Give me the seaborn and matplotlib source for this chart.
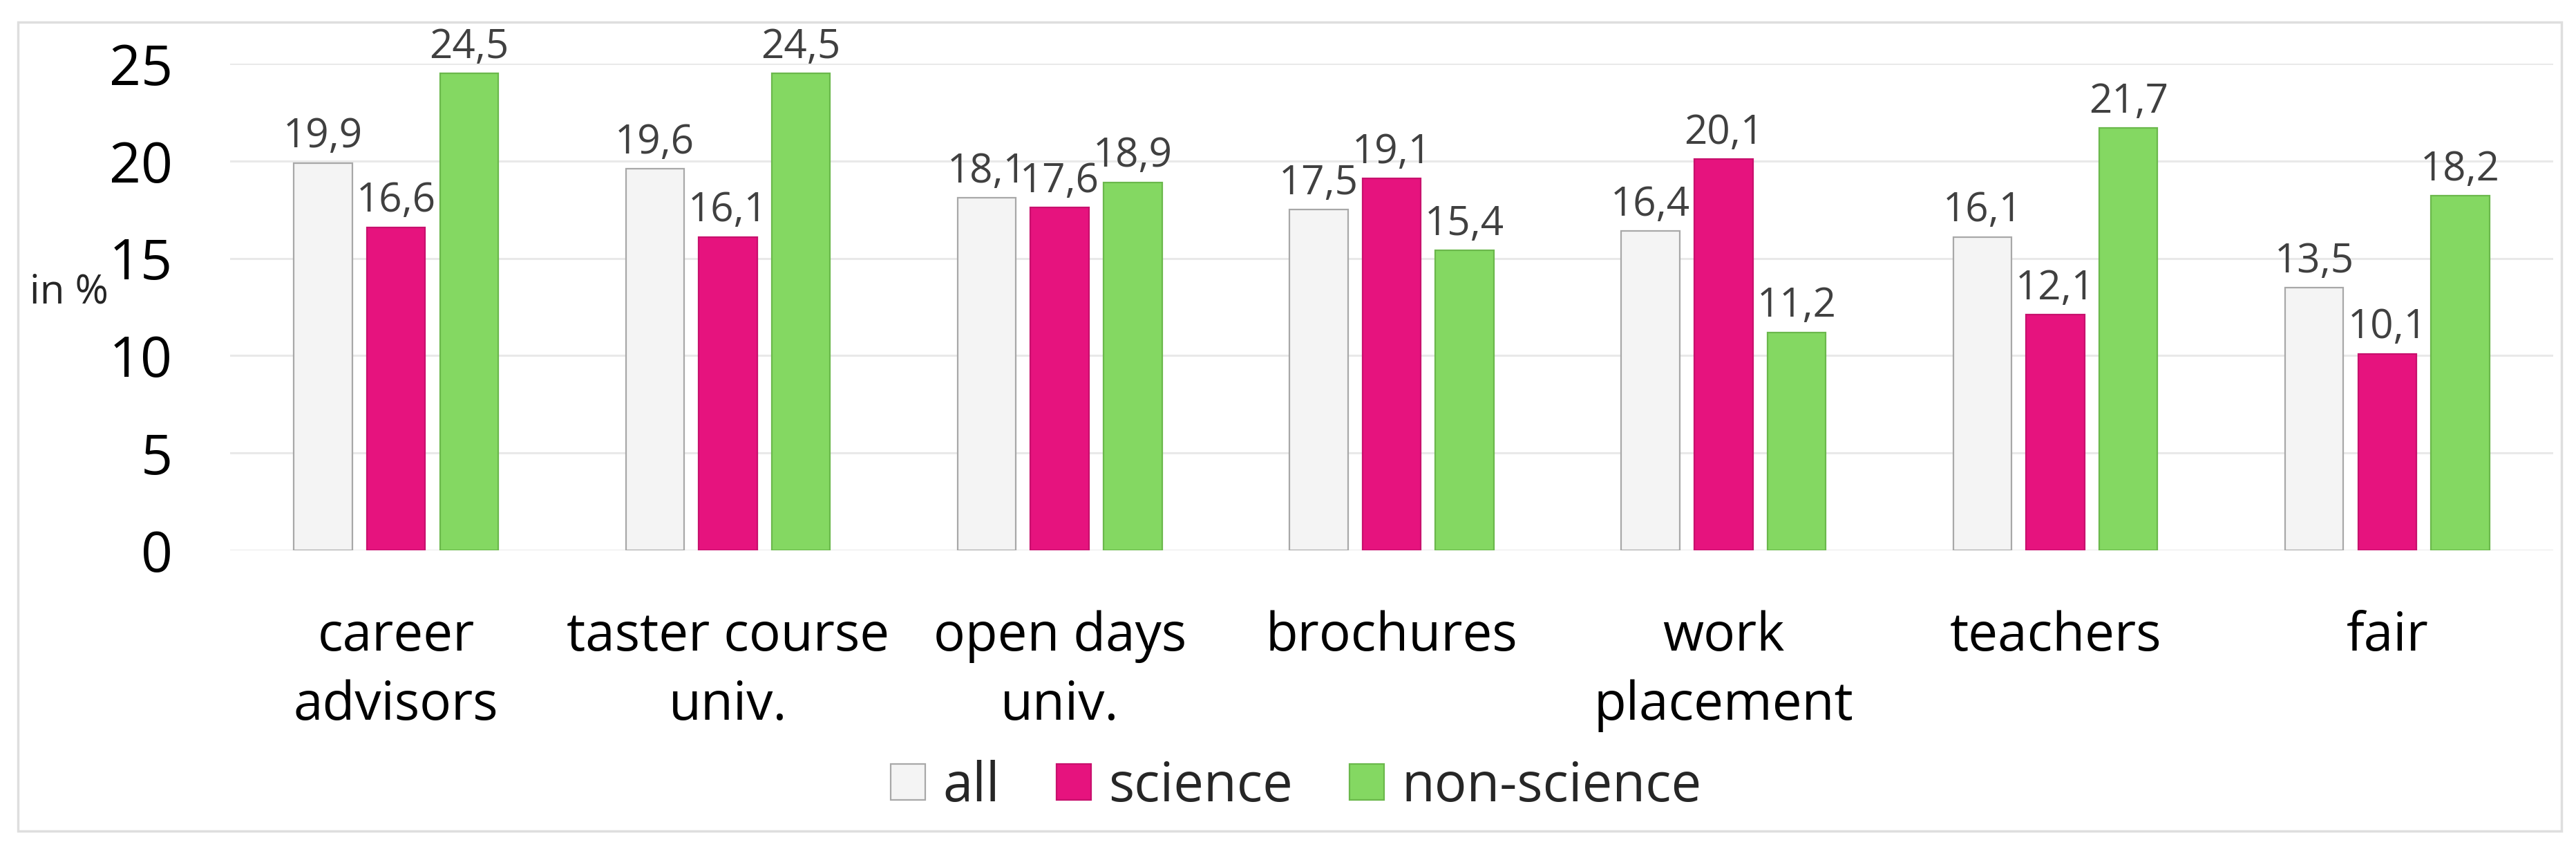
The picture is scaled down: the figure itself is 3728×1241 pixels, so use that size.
import matplotlib
matplotlib.use("Agg")
import matplotlib.pyplot as plt
import seaborn as sns
import pandas as pd
from matplotlib.patches import Rectangle

categories = ["career\nadvisors", "taster course\nuniv.", "open days\nuniv.", "brochures",
              "work\nplacement", "teachers", "fair"]
groups = ["all", "science", "non-science"]
all_vals = [19.9, 19.6, 18.1, 17.5, 16.4, 16.1, 13.5]
science_vals = [16.6, 16.1, 17.6, 19.1, 20.1, 12.1, 10.1]
nonscience_vals = [24.5, 24.5, 18.9, 15.4, 11.2, 21.7, 18.2]

fills = {"all": "#F4F4F4", "science": "#E6137E", "non-science": "#84D862"}
edges = {"all": "#A8A8A8", "science": "#C8106D", "non-science": "#6BB84C"}

sns.set_theme(style="white")
plt.rcParams['font.family'] = ['Open Sans', 'DejaVu Sans']

df = pd.DataFrame({
    "category": categories * 3,
    "group": [g for g in groups for _ in categories],
    "value": all_vals + science_vals + nonscience_vals,
})

fig = plt.figure(figsize=(37.28, 12.41), dpi=100)
ax = fig.add_axes([333 / 3728, 1 - 796 / 1241, (3695 - 333) / 3728, (796 - 92) / 1241])

sns.barplot(data=df, x="category", y="value", hue="group", hue_order=groups,
            palette=fills, saturation=1, width=0.66, gap=0.2, ax=ax, legend=True)

for cont, g in zip(ax.containers, groups):
    for bar in cont:
        bar.set_edgecolor(edges[g])
        bar.set_linewidth(1.6)
    ax.bar_label(cont, labels=[f"{v:.1f}".replace(".", ",") for v in cont.datavalues],
                 padding=6, fontsize=42, color="#404040")

ax.set_ylim(0, 25)
ax.set_xlim(-0.5, 6.5)
ax.set_yticks([0, 5, 10, 15, 20, 25])
ax.yaxis.grid(True, color="#E9E9E9", linewidth=2.2)
ax.set_axisbelow(True)
for s in ax.spines.values():
    s.set_visible(False)
ax.tick_params(axis="y", labelsize=58, length=0, pad=60, labelcolor="black")
ax.tick_params(axis="x", labelsize=55, length=0, pad=62, labelcolor="black")
for lbl in ax.get_xticklabels():
    lbl.set_linespacing(1.4)
ax.set_xlabel("")
ax.set_ylabel("")

fig.text(43 / 3728, 1 - 423 / 1241, "in %", fontsize=42, ha="left", va="center")

handles, labels = ax.get_legend_handles_labels()
ax.get_legend().remove()
leg = fig.legend(handles, labels, loc="center", bbox_to_anchor=(1876 / 3728, 1 - 1138 / 1241),
                 ncol=3, frameon=False, fontsize=56, handlelength=0.64, handleheight=0.64,
                 handletextpad=0.33, columnspacing=1.05, borderaxespad=0)
for h, g in zip(leg.legend_handles, groups):
    h.set_facecolor(fills[g])
    h.set_edgecolor(edges[g])
    h.set_linewidth(1.6)

fig.patches.append(Rectangle((26 / 3728, 1 - 1202 / 1241), (3707 - 26) / 3728, (1202 - 32) / 1241,
                             transform=fig.transFigure, fill=False, edgecolor="#DEDEDE",
                             linewidth=2.5, zorder=0))

fig.savefig("out.png", dpi=100, facecolor="white")
